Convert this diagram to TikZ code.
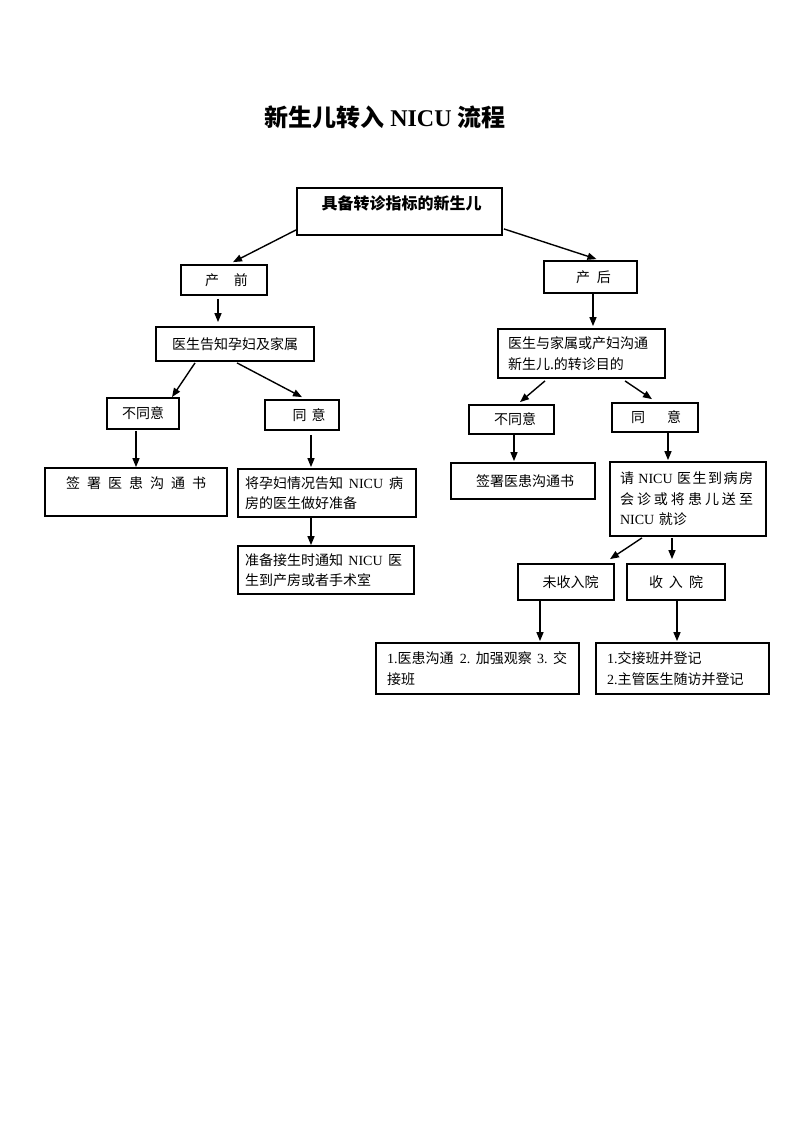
\documentclass[tikz,border=0pt]{standalone}
\usepackage{fontspec}
\setmainfont{Noto Sans CJK SC}
\newfontfamily\lat{Liberation Serif}
\usetikzlibrary{arrows.meta,calc}
\newcommand\nicu{{\lat NICU}}
\newcommand\la[1]{{\lat #1}}
\newcommand\gf{\hspace{0pt plus 1fill}}
\begin{document}
\begin{tikzpicture}[x=1pt,y=-1pt,
  box/.style={draw, line width=1.8pt, inner sep=0pt, font=\fontsize{14}{20.5}\selectfont},
  mbox/.style={box, align=left},
  arr/.style={line width=1.4pt, -{Triangle[length=9pt,width=7pt]}}]
\fill[white] (0,0) rectangle (793,1122);
\useasboundingbox (0,0) rectangle (793,1122);

% title
\node[font=\fontsize{24}{27}\selectfont\bfseries] (title) at (385,117) {新生儿转入 {\lat\bfseries NICU} 流程};

% boxes
\node[box, minimum width=205pt, minimum height=47pt, font=\fontsize{16}{20}\selectfont\bfseries,
      text height=18pt, text depth=23pt, inner ysep=3pt] (top) at (399.5,211.5) {\hspace{4pt}具备转诊指标的新生儿};
\node[box, minimum width=86pt, minimum height=30pt] (pre) at (224,280) {\hspace{5pt}产\hspace{15pt}前};
\node[box, minimum width=93pt, minimum height=32pt] (post) at (590.5,277) {\hspace{6pt}产\hspace{7pt}后};
\node[box, minimum width=158pt, minimum height=34pt] (tell) at (235,344) {医生告知孕妇及家属};
\node[mbox, minimum width=167pt, minimum height=49pt, text width=147pt, inner xsep=10pt] (comm) at (581.5,353.5)
  {医生与家属或产妇沟通\\新生儿.的转诊目的};
\node[box, minimum width=72pt, minimum height=31pt] (ldis) at (143,413.5) {不同意\hspace{10pt}};
\node[box, minimum width=74pt, minimum height=30pt] (lagr) at (302,415) {\hspace{14pt}同\hspace{5pt}意};
\node[box, minimum width=85pt, minimum height=29pt] (rdis) at (511.5,419.5) {\hspace{7pt}不同意};
\node[box, minimum width=86pt, minimum height=29pt] (ragr) at (655,417.5) {\hspace{2pt}同\hspace{22pt}意};
\node[box, minimum width=182pt, minimum height=48pt, text height=17.3pt, text depth=24.7pt, inner ysep=3pt] (lsign) at (136,492)
  {\makebox[140pt]{签\gf 署\gf 医\gf 患\gf 沟\gf 通\gf 书}\hspace{6pt}};
\node[mbox, minimum width=178pt, minimum height=48pt, text width=164pt, inner xsep=7pt] (prep1) at (327,493)
  {\makebox[158pt]{将孕妇情况告知\gf\nicu\gf 病}\\房的医生做好准备};
\node[mbox, minimum width=176pt, minimum height=48pt, text width=162pt, inner xsep=7pt] (prep2) at (326,570)
  {\makebox[157pt]{准备接生时通知\gf\nicu\gf 医}\\生到产房或者手术室};
\node[box, minimum width=144pt, minimum height=36pt] (rsign) at (523,481) {\hspace{4pt}签署医患沟通书};
\node[mbox, minimum width=156pt, minimum height=74pt, text width=136pt, inner xsep=10pt] (req) at (688,499)
  {\makebox[133pt]{请\hspace{3pt}\gf\nicu\hspace{3pt}\gf 医\gf 生\gf 到\gf 病\gf 房}\\\makebox[133pt]{会\gf 诊\gf 或\gf 将\gf 患\gf 儿\gf 送\gf 至}\\\nicu{} 就诊};
\node[box, minimum width=96pt, minimum height=36pt] (nadm) at (566,582) {\hspace{9pt}未收入院};
\node[box, minimum width=98pt, minimum height=36pt] (adm) at (676,582) {收\hspace{6pt}入\hspace{6pt}院\hspace{7pt}};
\node[mbox, minimum width=203pt, minimum height=51pt, text width=181pt, inner xsep=11pt] (r1) at (477.5,668.5)
  {\makebox[180pt]{\la{1.}医患沟通\hspace{1pt}\gf\la{2.}\gf 加强观察\gf\la{3.}\gf 交}\\接班};
\node[mbox, minimum width=173pt, minimum height=51pt, text width=151pt, inner xsep=11pt] (r2) at (682.5,668.5)
  {\la{1.}交接班并登记\\\la{2.}主管医生随访并登记};

% connectors
\draw[arr] ($(top.south west)+(0,-6)$) -- ($(pre.north)+(9,-2)$);
\draw[arr] ($(top.south east)+(1,-7)$) -- ($(post.north)+(6,-1)$);
\draw[arr] ($(pre.south)+(-6,3)$) -- ($(tell.north)+(-17,-4)$);
\draw[arr] ($(post.south)+(2.5,0)$) -- ($(comm.north)+(11.5,-2)$);
\draw[arr] ($(tell.south)+(-40,1)$) -- ($(ldis.north)+(29,0)$);
\draw[arr] ($(tell.south)+(2,1)$) -- ($(lagr.north)+(0,-2)$);
\draw[arr] ($(comm.south)+(-36.5,2)$) -- ($(rdis.north)+(8.5,-2)$);
\draw[arr] ($(comm.south)+(43.5,2)$) -- ($(ragr.north)+(-3,-3)$);
\draw[arr] ($(ldis.south)+(-7,1)$) -- ($(lsign.north)+(0,0)$);
\draw[arr] ($(lagr.south)+(9,4)$) -- ($(prep1.north)+(-16,-1)$);
\draw[arr] ($(prep1.south)+(-16,0)$) -- ($(prep2.north)+(-15,0)$);
\draw[arr] ($(rdis.south)+(2.5,0)$) -- ($(rsign.north)+(-9,-1)$);
\draw[arr] ($(ragr.south)+(13,0)$) -- ($(req.north)+(-20,-1)$);
\draw[arr] ($(req.south)+(-46,1)$) -- ($(nadm.north)+(44,-4)$);
\draw[arr] ($(req.south)+(-16,1)$) -- ($(adm.north)+(-4,-4)$);
\draw[arr] ($(nadm.south)+(-26,0)$) -- ($(r1.north)+(62.5,-1)$);
\draw[arr] ($(adm.south)+(1,0)$) -- ($(r2.north)+(-5.5,-1)$);
\end{tikzpicture}
\end{document}
